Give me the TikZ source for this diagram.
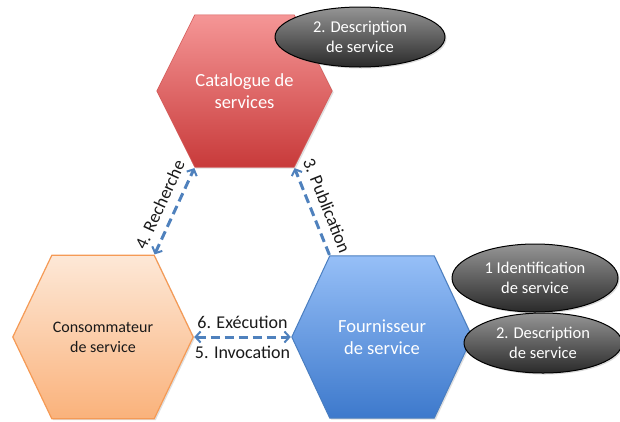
\documentclass[tikz,border=0pt]{standalone}
\usepackage{fontspec}
\setmainfont{Carlito}
\usetikzlibrary{arrows.meta,shapes.geometric,shadows,backgrounds}

\definecolor{redtop}{HTML}{F59696}
\definecolor{redbot}{HTML}{C83A3A}
\definecolor{redline}{HTML}{D45A58}
\definecolor{orgtop}{HTML}{FDE8D7}
\definecolor{orgbot}{HTML}{FAB27B}
\definecolor{orgline}{HTML}{F59A55}
\definecolor{bluetop}{HTML}{96BFF7}
\definecolor{bluebot}{HTML}{3D79CC}
\definecolor{blueline}{HTML}{4A7EC0}
\definecolor{linkcol}{HTML}{4F81BD}
\definecolor{bubtop}{HTML}{959595}
\definecolor{bubbot}{HTML}{2A2A2A}

% hexagon outline around a rectangular node, corners named <node>-nw, -ne, -se, -sw
\newcommand\hexagonof[2]{(#1.west) -- ([xshift=#2]#1.north west) coordinate (#1-nw)
  -- ([xshift=-#2]#1.north east) coordinate (#1-ne) -- (#1.east)
  -- ([xshift=-#2]#1.south east) coordinate (#1-se)
  -- ([xshift=#2]#1.south west) coordinate (#1-sw) -- cycle}

\tikzset{
  hexbox/.style={rectangle, inner sep=0pt, align=center,
    font=\fontsize{18.5}{22}\selectfont},
  hexshadow/.style={drop shadow={opacity=0.25, shadow xshift=1.5pt, shadow yshift=-1.5pt}},
  bubble/.style={ellipse, draw=black, line width=1pt, top color=bubtop,
    bottom color=bubbot, text=white, align=center, inner sep=0pt,
    font=\fontsize{16.5}{20}\selectfont,
    drop shadow={opacity=0.3, shadow xshift=1.5pt, shadow yshift=-1.5pt}},
  link/.style={draw=linkcol, line width=3pt, dash pattern=on 9pt off 5pt,
    arrows={-}, shorten <=1pt, shorten >=1pt},
  tip/.tip={Straight Barb[length=5pt, width=11pt, line width=2pt]},
  linklabel/.style={font=\fontsize{18}{22}\selectfont, text=black!90}
}

\begin{document}
\begin{tikzpicture}[x=1pt, y=-1pt]
\useasboundingbox (0,0) rectangle (620,421);

% the three actors
\node[hexbox, minimum width=175pt, minimum height=152pt, text=white]
  (cat) at (244.5,91) {Catalogue de\\services};
\node[hexbox, minimum width=180pt, minimum height=163pt, text=black!90,
  font=\fontsize{16}{20}\selectfont]
  (cons) at (103,337) {Consommateur\\de service};
\node[hexbox, minimum width=180pt, minimum height=162pt, text=white]
  (prov) at (382,337) {Fournisseur\\de service};

\begin{scope}[on background layer]
  \draw[line width=0.6pt, draw=redline, top color=redtop, bottom color=redbot, hexshadow]
    \hexagonof{cat}{38pt};
  \draw[line width=1.2pt, draw=orgline, top color=orgtop, bottom color=orgbot, hexshadow]
    \hexagonof{cons}{39pt};
  \draw[line width=1pt, draw=blueline, top color=bluetop, bottom color=bluebot, hexshadow]
    \hexagonof{prov}{38pt};
\end{scope}

% exchanges between the actors
\draw[link, {tip}-{tip}] (cons-ne) -- node[linklabel, sloped, above=5pt] {4. Recherche} (cat-sw);
\draw[link, -{tip}] (prov-nw) -- node[linklabel, sloped, above=5pt] {3. Publication} (cat-se);
\draw[link, {tip}-{tip}] (cons.east) --
  node[linklabel, above=4pt] {6. Exécution}
  node[linklabel, below=4pt] {5. Invocation} (prov.west);

% steps attached to the actors
\node[bubble, minimum width=170pt, minimum height=60pt] (catdesc) at (360,37)
  {2. Description\\de service};
\node[bubble, minimum width=166pt, minimum height=68pt] (provid) at (535,278)
  {1 Identification\\de service};
\node[bubble, minimum width=158pt, minimum height=60pt] (provdesc) at (543,343)
  {2. Description\\de service};
\end{tikzpicture}
\end{document}
